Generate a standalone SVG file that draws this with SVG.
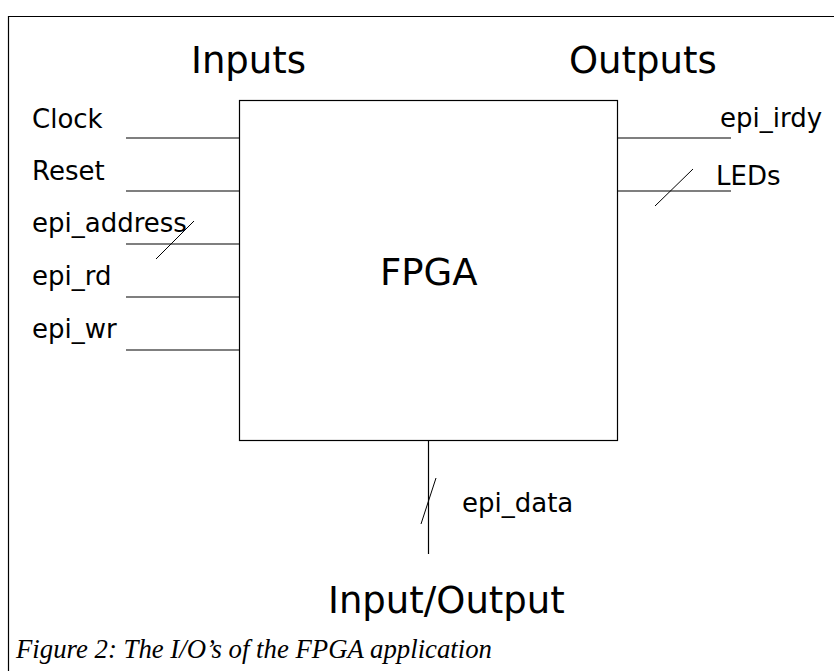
<svg xmlns="http://www.w3.org/2000/svg" width="834" height="671" viewBox="0 0 834 671">
  <style>
    .ln { stroke: #000; stroke-width: 1.2; fill: none; }
    .thin { stroke: #000; stroke-width: 1; fill: none; }
    .lbl { font-family: "DejaVu Sans", sans-serif; font-size: 26px; fill: #000; }
    .head { font-family: "DejaVu Sans", sans-serif; font-size: 37px; fill: #000; }
    .cap { font-family: "Liberation Serif", serif; font-style: italic; font-size: 27px; fill: #000; }
  </style>
  <rect width="834" height="671" fill="#fff"/>

  <!-- page frame -->
  <path class="ln" d="M8.5 671 V16.5 H834"/>

  <!-- section headings -->
  <text class="head" x="191" y="73">Inputs</text>
  <text class="head" x="569" y="73">Outputs</text>
  <text class="head" x="328" y="613">Input/Output</text>

  <!-- FPGA block -->
  <g id="fpga">
    <rect class="ln" x="239.5" y="100.5" width="378" height="340"/>
    <text class="head" x="380" y="285">FPGA</text>
  </g>

  <!-- signal labels -->
  <g id="clock"><text class="lbl" x="32" y="128">Clock</text></g>
  <g id="reset"><text class="lbl" x="32" y="180">Reset</text></g>
  <g id="epi_address"><text class="lbl" x="32" y="232">epi_address</text></g>
  <g id="epi_rd"><text class="lbl" x="32" y="285">epi_rd</text></g>
  <g id="epi_wr"><text class="lbl" x="32" y="338">epi_wr</text></g>
  <g id="epi_irdy"><text class="lbl" x="720" y="127">epi_irdy</text></g>
  <g id="leds"><text class="lbl" x="716" y="185">LEDs</text></g>
  <g id="epi_data"><text class="lbl" x="462" y="512">epi_data</text></g>

  <!-- connectors, with bus slashes -->
  <g id="connectors">
    <path class="ln" d="M126 138 H239"/>
    <path class="ln" d="M126 191 H239"/>
    <path class="ln" d="M126 244 H239"/>
    <path class="ln" d="M126 297 H239"/>
    <path class="ln" d="M126 350 H239"/>
    <path class="ln" d="M617 138 H731"/>
    <path class="ln" d="M617 191 H731"/>
    <path class="ln" d="M428.5 440 V554"/>
    <path class="thin" d="M156 259 L194 221"/>
    <path class="thin" d="M655 206 L693 169"/>
    <path class="thin" d="M421 524 L436 478"/>
  </g>

  <!-- caption -->
  <text class="cap" x="16" y="658" textLength="476" lengthAdjust="spacingAndGlyphs">Figure 2: The I/O’s of the FPGA application</text>
</svg>
